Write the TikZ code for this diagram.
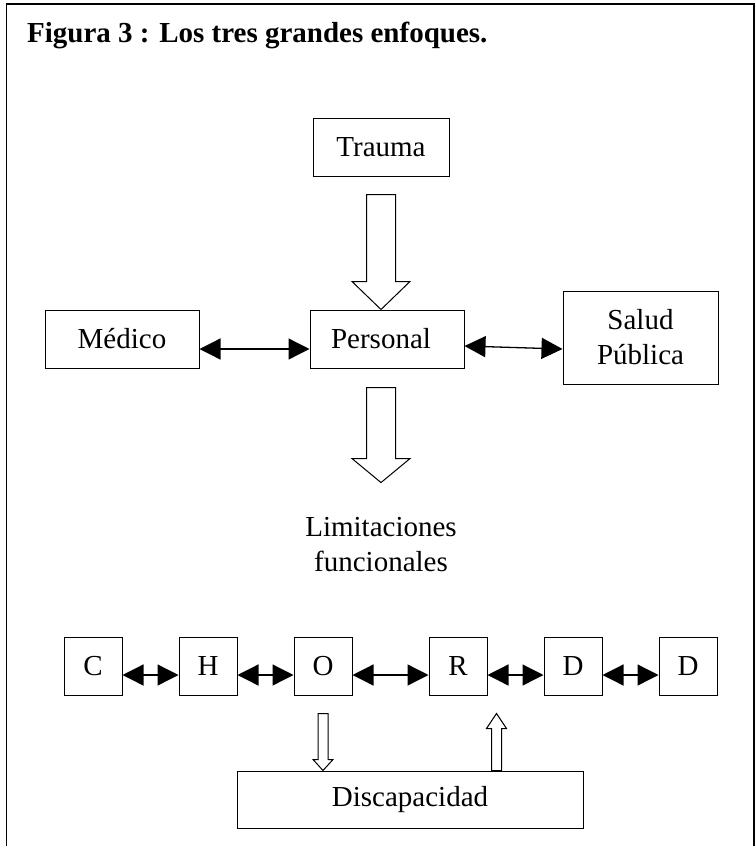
\documentclass[tikz,border=0pt]{standalone}
\usepackage{fontspec}
\setmainfont{Liberation Serif}
\usetikzlibrary{arrows.meta,calc}

\tikzset{
  caja/.style={draw, line width=1pt, inner sep=0pt, minimum height=58pt,
    font=\fontsize{29}{35}\selectfont, align=center},
  letra/.style={caja, minimum width=58pt},
  doble/.style={line width=1.3pt,
    {Triangle[length=21pt,width=21pt]}-{Triangle[length=21pt,width=21pt]}}
}
% flecha hueca: inicio, punta, medio cuerpo, media cabeza, largo de cabeza
\newcommand{\flechagrande}[5]{%
  \draw[line width=1pt, fill=white] let \p1=(#1), \p2=(#2) in
    (\x1-#3,\y1) -- (\x1+#3,\y1) -- (\x1+#3,\y2+#5) -- (\x1+#4,\y2+#5)
    -- (\x1,\y2) -- (\x1-#4,\y2+#5) -- (\x1-#3,\y2+#5) -- cycle;}

\begin{document}
\begin{tikzpicture}[x=1pt,y=-1pt]
    \useasboundingbox (0,0) rectangle (755,846);
    \draw[line width=1.5pt] (6.5,846) -- (6.5,4) -- (754,4) -- (754,846);
    \node[anchor=base west, inner sep=0pt, font=\bfseries\fontsize{29}{35}\selectfont] (titulo) at (27,42) {Figura 3 : Los tres grandes enfoques.};
    \node[caja, minimum width=136pt] (trauma) at (381,147) {Trauma};
    \node[caja, minimum width=154pt] (medico) at (122,339) {Médico};
    \node[caja, minimum width=154pt] (personal) at (387,339) {Personal\hspace*{12pt}};
    \node[caja, minimum width=155pt, minimum height=93pt] (salud) at (640.5,337.5) {Salud\\Pública};
    \node[inner sep=0pt, font=\fontsize{29}{35}\selectfont, align=center] (limit) at (381,545) {Limitaciones\\funcionales};
    \node[letra] (c) at (93,666) {C};  \node[letra] (h) at (208,666) {H};
    \node[letra] (o) at (323,666) {O}; \node[letra] (r) at (458,666) {R};
    \node[letra] (d1) at (573,666) {D}; \node[letra] (d2) at (688,666) {D};
    \node[caja, minimum width=346pt, minimum height=57pt] (disc) at (410,799.5) {Discapacidad};
    \coordinate (sube) at ($(r.south east)+(9,18)$);
    \draw[doble] ([yshift=-10pt]medico.east) -- ([yshift=-10pt]personal.west);
    \draw[doble] ([yshift=-7pt]personal.east) -- ([yshift=-11.5pt]salud.west);
    \foreach \a/\b in {c/h,h/o,o/r,r/d1,d1/d2}
      \draw[doble] ([yshift=-9pt]\a.east) -- ([yshift=-9pt]\b.west);
    \flechagrande{$(trauma.south)+(0,18)$}{personal.north}{14.5pt}{29pt}{28pt}
    \flechagrande{$(trauma.south |- personal.south)+(0,19)$}{$(limit.north)+(0,-35)$}{14.5pt}{29pt}{24pt}
    \flechagrande{$(o.south)+(0,18)$}{disc.north}{5pt}{10pt}{11pt}
    \flechagrande{sube |- disc.north}{sube}{5pt}{10pt}{-15pt}
\end{tikzpicture}
\end{document}
